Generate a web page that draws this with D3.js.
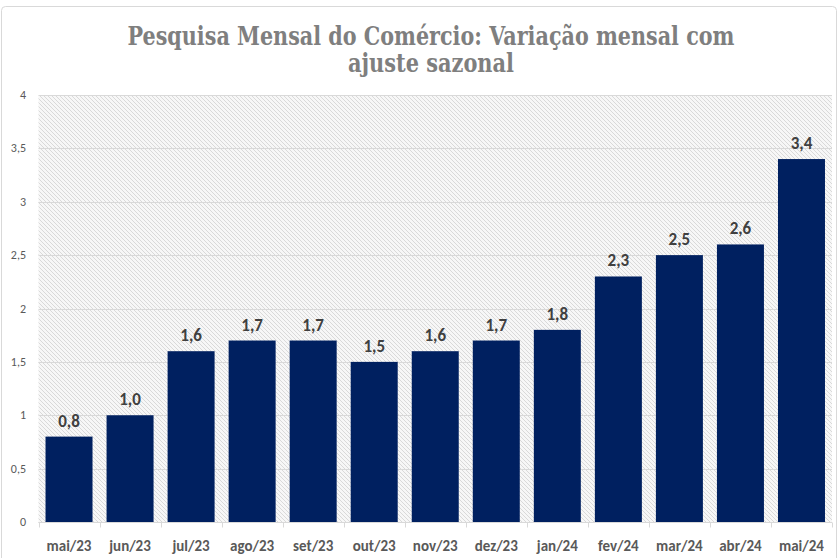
<!DOCTYPE html>
<html>
<head>
<meta charset="utf-8">
<script src="https://d3js.org/d3.v7.min.js"></script>
<style>
  body { margin: 0; background: #fff; }
  text { font-family: Carlito, Calibri, "Open Sans", sans-serif; }
  .title { font-family: "DejaVu Serif", "Liberation Serif", serif; }
</style>
</head>
<body>
<svg id="chart" width="839" height="558"></svg>
<script>
// dados
var months = ['mai/23', 'jun/23', 'jul/23', 'ago/23', 'set/23', 'out/23', 'nov/23',
              'dez/23', 'jan/24', 'fev/24', 'mar/24', 'abr/24', 'mai/24'];
var values = [0.8, 1.0, 1.6, 1.7, 1.7, 1.5, 1.6, 1.7, 1.8, 2.3, 2.5, 2.6, 3.4];
var yTicks = [0, 0.5, 1, 1.5, 2, 2.5, 3, 3.5, 4];
var titleLines = ['Pesquisa Mensal do Comércio: Variação mensal com', 'ajuste sazonal'];

var svg = d3.select('#chart');
var plotL = 38.5, plotR = 832, plotT = 95, plotB = 522;

var fmt = function(v, dec) {
  return (dec ? v.toFixed(dec) : String(v)).replace('.', ',');
};

// borda externa
svg.append('rect')
  .attr('x', 1.5).attr('y', 6.5).attr('width', 835).attr('height', 560)
  .attr('rx', 4)
  .attr('fill', '#fff').attr('stroke', '#d9d9d9');

// hachura
var defs = svg.append('defs');
var pat = defs.append('pattern')
  .attr('id', 'hatch')
  .attr('patternUnits', 'userSpaceOnUse')
  .attr('width', 4).attr('height', 4);
pat.append('rect').attr('width', 4).attr('height', 4).attr('fill', '#f7f7f7');
pat.append('path')
  .attr('d', 'M-1,-1 L5,5 M-1,3 L1,5 M3,-1 L5,1')
  .attr('stroke', '#d2d2d2').attr('stroke-width', 0.8);

var x = d3.scaleBand()
  .domain(months)
  .range([plotL, plotR])
  .paddingInner(0.23)
  .paddingOuter(0.115);

var y = d3.scaleLinear()
  .domain([0, 4])
  .range([plotB, plotT]);

svg.append('rect')
  .attr('x', plotL).attr('y', plotT)
  .attr('width', plotR - plotL).attr('height', plotB - plotT)
  .attr('fill', 'url(#hatch)');

// grade
svg.append('g')
  .selectAll('line')
  .data(yTicks)
  .enter()
  .append('line')
  .attr('x1', plotL).attr('x2', plotR)
  .attr('y1', function(d) { return Math.round(y(d)) + 0.5; })
  .attr('y2', function(d) { return Math.round(y(d)) + 0.5; })
  .attr('stroke', '#d9d9d9').attr('stroke-width', 1);

// eixo y
svg.append('g')
  .selectAll('text')
  .data(yTicks)
  .enter()
  .append('text')
  .attr('x', 26)
  .attr('y', function(d) { return y(d) + 4; })
  .attr('text-anchor', 'end')
  .attr('font-size', 12)
  .attr('fill', '#595959')
  .text(function(d) { return fmt(d); });

// barras
svg.append('g')
  .selectAll('rect')
  .data(values)
  .enter()
  .append('rect')
  .attr('x', function(d, i) { return x(months[i]); })
  .attr('y', function(d) { return y(d); })
  .attr('width', x.bandwidth())
  .attr('height', function(d) { return y(0) - y(d); })
  .attr('fill', '#002060');

// rótulos
svg.append('g')
  .selectAll('text')
  .data(values)
  .enter()
  .append('text')
  .attr('x', function(d, i) { return x(months[i]) + x.bandwidth() / 2; })
  .attr('y', function(d) { return y(d) - 10; })
  .attr('text-anchor', 'middle')
  .attr('font-size', 17)
  .attr('font-weight', 'bold')
  .attr('fill', '#404040')
  .text(function(d) { return fmt(d, 1); });

// eixo x
var xAxis = svg.append('g')
  .attr('transform', 'translate(0,' + (plotB + 0.5) + ')');
xAxis.append('line')
  .attr('x1', plotL).attr('x2', plotR)
  .attr('stroke', '#d9d9d9');
var step = x.step();
xAxis.selectAll('.tk')
  .data(d3.range(months.length + 1))
  .enter()
  .append('line')
  .attr('class', 'tk')
  .attr('x1', function(i) { return Math.round(plotL + i * step) + 0.5; })
  .attr('x2', function(i) { return Math.round(plotL + i * step) + 0.5; })
  .attr('y1', 0).attr('y2', 5)
  .attr('stroke', '#d9d9d9');
xAxis.selectAll('text')
  .data(months)
  .enter()
  .append('text')
  .attr('x', function(d) { return x(d) + x.bandwidth() / 2; })
  .attr('y', 28)
  .attr('text-anchor', 'middle')
  .attr('font-size', 15)
  .attr('font-weight', 'bold')
  .attr('fill', '#595959')
  .text(function(d) { return d; });

// título
svg.append('text')
  .attr('class', 'title')
  .attr('x', 431).attr('y', 45)
  .attr('text-anchor', 'middle')
  .attr('font-size', 26)
  .attr('font-weight', 'bold')
  .attr('fill', '#7f7f7f')
  .attr('textLength', 607)
  .attr('lengthAdjust', 'spacingAndGlyphs')
  .text(titleLines[0]);
svg.append('text')
  .attr('class', 'title')
  .attr('x', 431).attr('y', 72)
  .attr('text-anchor', 'middle')
  .attr('font-size', 26)
  .attr('font-weight', 'bold')
  .attr('fill', '#7f7f7f')
  .attr('textLength', 166)
  .attr('lengthAdjust', 'spacingAndGlyphs')
  .text(titleLines[1]);
</script>
</body>
</html>
